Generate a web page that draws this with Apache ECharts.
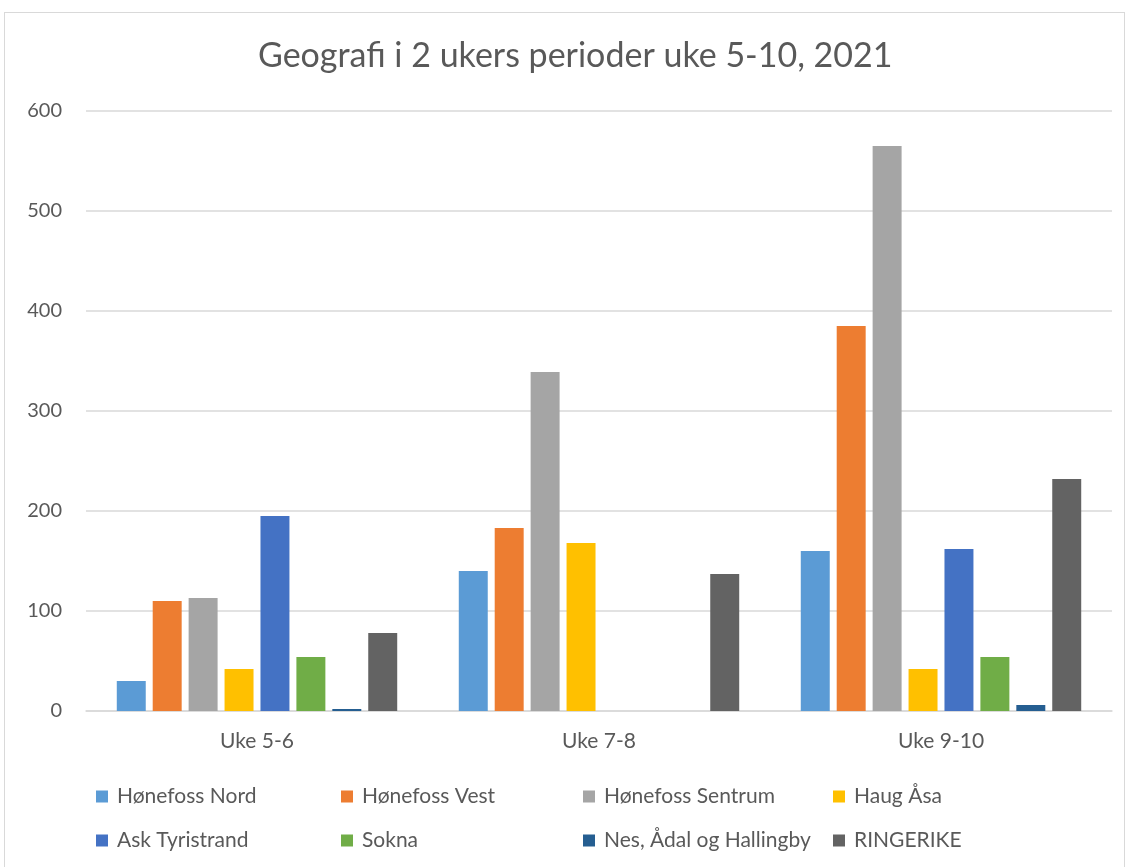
<!DOCTYPE html>
<html>
<head>
<meta charset="utf-8">
<script src="https://cdn.jsdelivr.net/npm/echarts@6/dist/echarts.min.js"></script>
<style>
html,body{margin:0;padding:0;background:#fff;}
#chart{width:1129px;height:867px;}
#frame{position:absolute;left:4px;top:12px;width:1121px;height:870px;border:1px solid #d9d9d9;box-sizing:border-box;pointer-events:none;}
</style>
</head>
<body>
<div id="chart"></div>
<div id="frame"></div>
<script>
const categories = ['Uke 5-6', 'Uke 7-8', 'Uke 9-10'];
const seriesNames = ['Hønefoss Nord', 'Hønefoss Vest', 'Hønefoss Sentrum', 'Haug Åsa', 'Ask Tyristrand', 'Sokna', 'Nes, Ådal og Hallingby', 'RINGERIKE'];
const honefossNord = [30, 140, 160];
const honefossVest = [110, 183, 385];
const honefossSentrum = [113, 339, 565];
const haugAsa = [42, 168, 42];
const askTyristrand = [195, 0, 162];
const sokna = [54, 0, 54];
const nesAdalHallingby = [2, 0, 6];
const ringerike = [78, 137, 232];
const yTicks = [0, 100, 200, 300, 400, 500, 600];

const values = [honefossNord, honefossVest, honefossSentrum, haugAsa, askTyristrand, sokna, nesAdalHallingby, ringerike];
const colors = ['#5B9BD5', '#ED7D31', '#A5A5A5', '#FFC000', '#4472C4', '#70AD47', '#255E91', '#636363'];
const FONT = 'Lato';

const legendPos = [
  [91, 781], [336, 781], [578, 781], [828, 781],
  [91, 825], [336, 825], [578, 825], [828, 825]
];

const chart = echarts.init(document.getElementById('chart'));
chart.setOption({
  animation: false,
  color: colors,
  title: {
    text: 'Geografi i 2 ukers perioder uke 5-10, 2021',
    left: 253,
    top: 34,
    textStyle: {fontFamily: FONT, fontSize: 34, fontWeight: 'normal', color: '#595959'}
  },
  legend: seriesNames.map((n, i) => ({
    data: [n],
    left: legendPos[i][0],
    top: legendPos[i][1],
    itemWidth: 12,
    itemHeight: 12,
    icon: 'rect',
    itemGap: 4,
    textStyle: {fontFamily: FONT, fontSize: 21, color: '#595959', padding: [0, 0, 0, 4]}
  })),
  grid: {left: 86, right: 17, top: 111, bottom: 156},
  xAxis: {
    type: 'category',
    data: categories,
    axisLine: {lineStyle: {color: '#d9d9d9', width: 1.5}},
    axisTick: {show: false},
    axisLabel: {fontFamily: FONT, fontSize: 21, color: '#595959', margin: 20}
  },
  yAxis: {
    type: 'value',
    min: yTicks[0],
    max: yTicks[yTicks.length - 1],
    interval: 100,
    axisLine: {show: false},
    axisTick: {show: false},
    splitLine: {lineStyle: {color: '#d9d9d9', width: 1.5}},
    axisLabel: {fontFamily: FONT, fontSize: 20, color: '#595959', margin: 24}
  },
  series: seriesNames.map((n, i) => ({
    name: n,
    type: 'bar',
    data: values[i],
    barGap: '24%',
    barCategoryGap: '18%',
    itemStyle: {color: colors[i]}
  }))
});
</script>
</body>
</html>
